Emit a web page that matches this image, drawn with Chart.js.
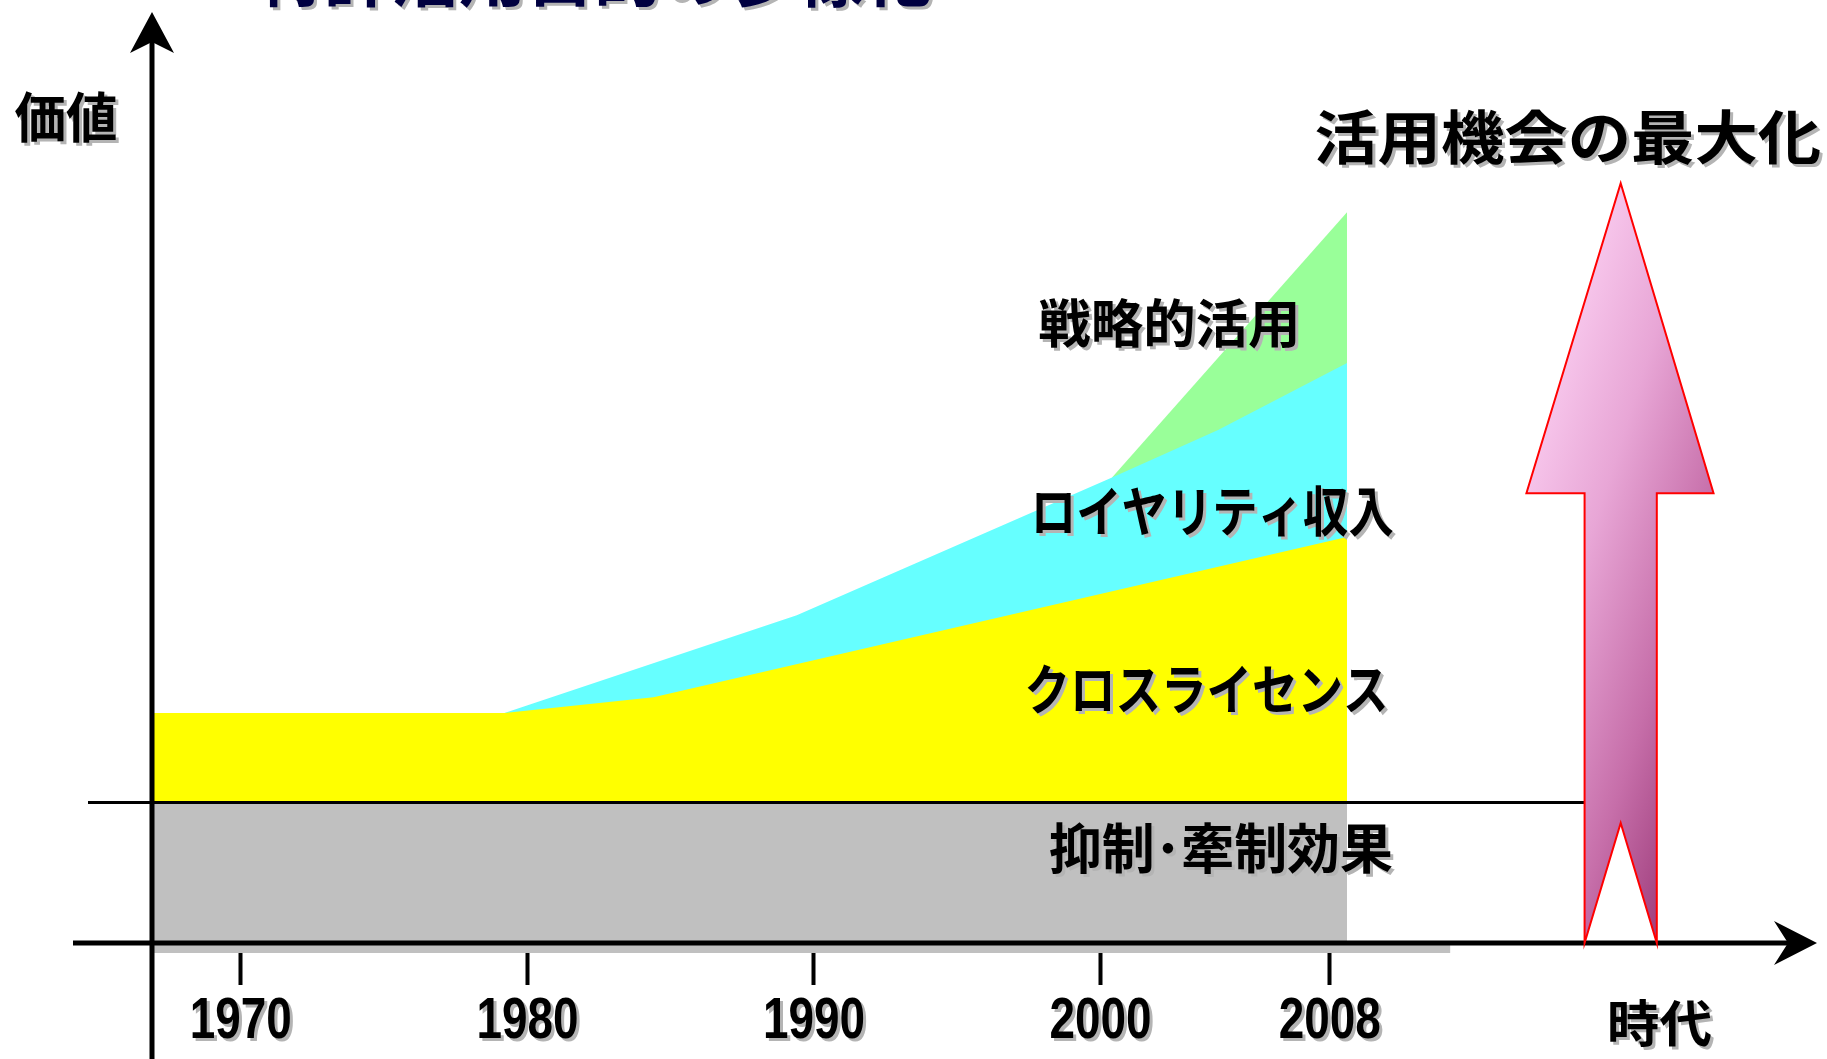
<!DOCTYPE html>
<html lang="ja">
<head>
<meta charset="utf-8">
<title>知的財産の活用</title>
<script src="https://cdn.jsdelivr.net/npm/chart.js@4.4.1/dist/chart.umd.min.js"></script>
<style>
  html, body { margin: 0; padding: 0; background: #fff; }
  canvas { display: block; }
</style>
</head>
<body>
<canvas id="value-chart" width="1827" height="1059"></canvas>
<script>
// x axis tick years
const tickYears = [1970, 1980, 1990, 2000, 2008];

// each band: years of its corners and the value of its top edge
const deterrenceYears = [1966.9, 2008.6];
const deterrenceValues = [15.1, 15.1];
const crossYears = [1966.9, 1979.2, 1984.4, 2008.6];
const crossValues = [24.7, 24.7, 26.4, 43.6];
const royaltyYears = [1979.2, 1989.4, 2000.4, 2004.1, 2008.6];
const royaltyValues = [24.7, 35.2, 50.0, 55.1, 62.3];
const strategicYears = [2000.4, 2008.6];
const strategicValues = [50.0, 78.5];

const seriesLabels = ['抑制･牽制効果', 'クロスライセンス', 'ロイヤリティ収入', '戦略的活用'];
const seriesColors = ['#c0c0c0', '#ffff00', '#66ffff', '#99ff99'];

const JP = "'Noto Sans CJK JP', 'Noto Sans', sans-serif";
const SHADOW = '#b4b4b4';

// text placed in chart units (year, value)
const annotations = [
  { text: seriesLabels[3], x: 2002.4, y: 66.6, size: 52, width: 262 },
  { text: seriesLabels[2], x: 2003.9, y: 46.3, size: 54, width: 363 },
  { text: seriesLabels[1], x: 2003.7, y: 27.2, size: 54, width: 364 },
  { text: seriesLabels[0], x: 2004.2, y: 10.2, size: 54, width: 344 },
  { text: '活用機会の最大化', x: 2016.3, y: 86.6, size: 58, width: 507 },
  { text: '価値', x: 1963.9, y: 88.7, size: 54, width: 103 },
  { text: '時代', x: 2019.5, y: -8.6, size: 50, width: 105 }
];

function points(xs, ys) {
  return xs.map((x, i) => ({ x: x, y: ys[i] }));
}

function band(i, xs, ys) {
  return {
    label: seriesLabels[i],
    data: points(xs, ys),
    fill: 'origin',
    backgroundColor: seriesColors[i],
    borderColor: 'transparent',
    borderWidth: 0,
    pointRadius: 0,
    tension: 0
  };
}

// text squeezed or stretched to a given width, with a drop shadow
function drawText(ctx, text, cx, cy, font, width, color, baseline) {
  ctx.save();
  ctx.font = font;
  const w = ctx.measureText(text).width;
  ctx.translate(cx, cy);
  ctx.scale(width / w, 1);
  ctx.textAlign = 'center';
  ctx.textBaseline = baseline || 'middle';
  ctx.shadowColor = SHADOW;
  ctx.shadowOffsetX = 3;
  ctx.shadowOffsetY = 3;
  ctx.fillStyle = color;
  ctx.fillText(text, 0, 0);
  ctx.restore();
}

// axes with arrows, tick labels, the pink arrow and the texts
const decor = {
  id: 'decor',
  afterDatasetsDraw(chart) {
    const ctx = chart.ctx;
    const sx = chart.scales.x;
    const sy = chart.scales.y;
    const area = chart.chartArea;
    const px = v => sx.getPixelForValue(v);
    const py = v => sy.getPixelForValue(v);

    ctx.save();

    // gray strip just under the time axis
    ctx.fillStyle = '#c0c0c0';
    ctx.fillRect(area.left, area.bottom, px(2012.2) - area.left, 10);

    // thin line on top of the deterrence band
    ctx.strokeStyle = '#000';
    ctx.lineWidth = 3;
    ctx.beginPath();
    ctx.moveTo(88, py(deterrenceValues[0]));
    ctx.lineTo(px(2017), py(deterrenceValues[0]));
    ctx.stroke();

    // value axis
    ctx.lineWidth = 5;
    ctx.beginPath();
    ctx.moveTo(area.left, chart.height);
    ctx.lineTo(area.left, area.top + 30);
    ctx.stroke();
    ctx.fillStyle = '#000';
    ctx.beginPath();
    ctx.moveTo(area.left, area.top);
    ctx.lineTo(area.left + 22, area.top + 41);
    ctx.lineTo(area.left, area.top + 30);
    ctx.lineTo(area.left - 22, area.top + 41);
    ctx.closePath();
    ctx.fill();

    // time axis
    const tip = area.right;
    ctx.beginPath();
    ctx.moveTo(73, area.bottom);
    ctx.lineTo(tip - 29, area.bottom);
    ctx.stroke();
    ctx.beginPath();
    ctx.moveTo(tip, area.bottom);
    ctx.lineTo(tip - 43, area.bottom - 22);
    ctx.lineTo(tip - 29, area.bottom);
    ctx.lineTo(tip - 43, area.bottom + 22);
    ctx.closePath();
    ctx.fill();

    // big pink arrow
    const cx = px(2018.15);
    const headL = px(2014.86), headR = px(2021.39);
    const shaftL = px(2016.89), shaftR = px(2019.41);
    const top = py(81.6), neck = py(48.3), notch = py(12.9), base = py(0);
    const grad = ctx.createLinearGradient(cx, top, cx + 249, top + 79);
    grad.addColorStop(0, '#f6c4ea');
    grad.addColorStop(0.3, '#e8a6d6');
    grad.addColorStop(0.7, '#c66ea9');
    grad.addColorStop(1, '#a0407e');
    ctx.beginPath();
    ctx.moveTo(cx, top);
    ctx.lineTo(headR, neck);
    ctx.lineTo(shaftR, neck);
    ctx.lineTo(shaftR, base);
    ctx.lineTo(cx, notch);
    ctx.lineTo(shaftL, base);
    ctx.lineTo(shaftL, neck);
    ctx.lineTo(headL, neck);
    ctx.closePath();
    ctx.fillStyle = grad;
    ctx.fill();
    ctx.strokeStyle = '#ff0000';
    ctx.lineWidth = 2;
    ctx.lineJoin = 'miter';
    ctx.stroke();

    ctx.restore();

    // year labels under the tick marks, narrow like the original
    const tickFont = "bold 57px 'Liberation Sans', Arial, sans-serif";
    sx.ticks.forEach((t, i) => {
      const label = String(t.value);
      drawText(ctx, label, sx.getPixelForTick(i), area.bottom + 79, tickFont, 102, '#000');
    });

    annotations.forEach(a => {
      drawText(ctx, a.text, px(a.x), py(a.y), 'bold ' + a.size + 'px ' + JP, a.width, '#000');
    });

    // heading, mostly above the page
    drawText(ctx, '特許活用目的の多様化', 594, 1, 'bold 66px ' + JP, 676, '#000040', 'alphabetic');
  }
};

const ctx = document.getElementById('value-chart').getContext('2d');
const chart = new Chart(ctx, {
  type: 'line',
  data: {
    datasets: [
      band(0, deterrenceYears, deterrenceValues),
      band(1, crossYears, crossValues),
      band(2, royaltyYears, royaltyValues),
      band(3, strategicYears, strategicValues)
    ]
  },
  options: {
    responsive: false,
    animation: false,
    events: [],
    layout: { padding: { left: 152, right: 10, top: 12, bottom: 0 } },
    plugins: {
      legend: { display: false },
      tooltip: { enabled: false }
    },
    scales: {
      x: {
        type: 'linear',
        min: 1966.9,
        max: 2025.0,
        afterBuildTicks: scale => {
          scale.ticks = tickYears.map(v => ({ value: v }));
        },
        afterFit: scale => {
          scale.height = 116;
        },
        border: { display: false },
        grid: {
          drawOnChartArea: false,
          drawTicks: true,
          tickLength: 42,
          tickWidth: 4,
          tickColor: '#000',
          tickBorderDash: [0, 10, 32, 100]
        },
        ticks: {
          display: false,
          autoSkip: false,
          callback: v => String(v)
        }
      },
      y: {
        display: false,
        min: 0,
        max: 100
      }
    }
  },
  plugins: [decor]
});
</script>
</body>
</html>
